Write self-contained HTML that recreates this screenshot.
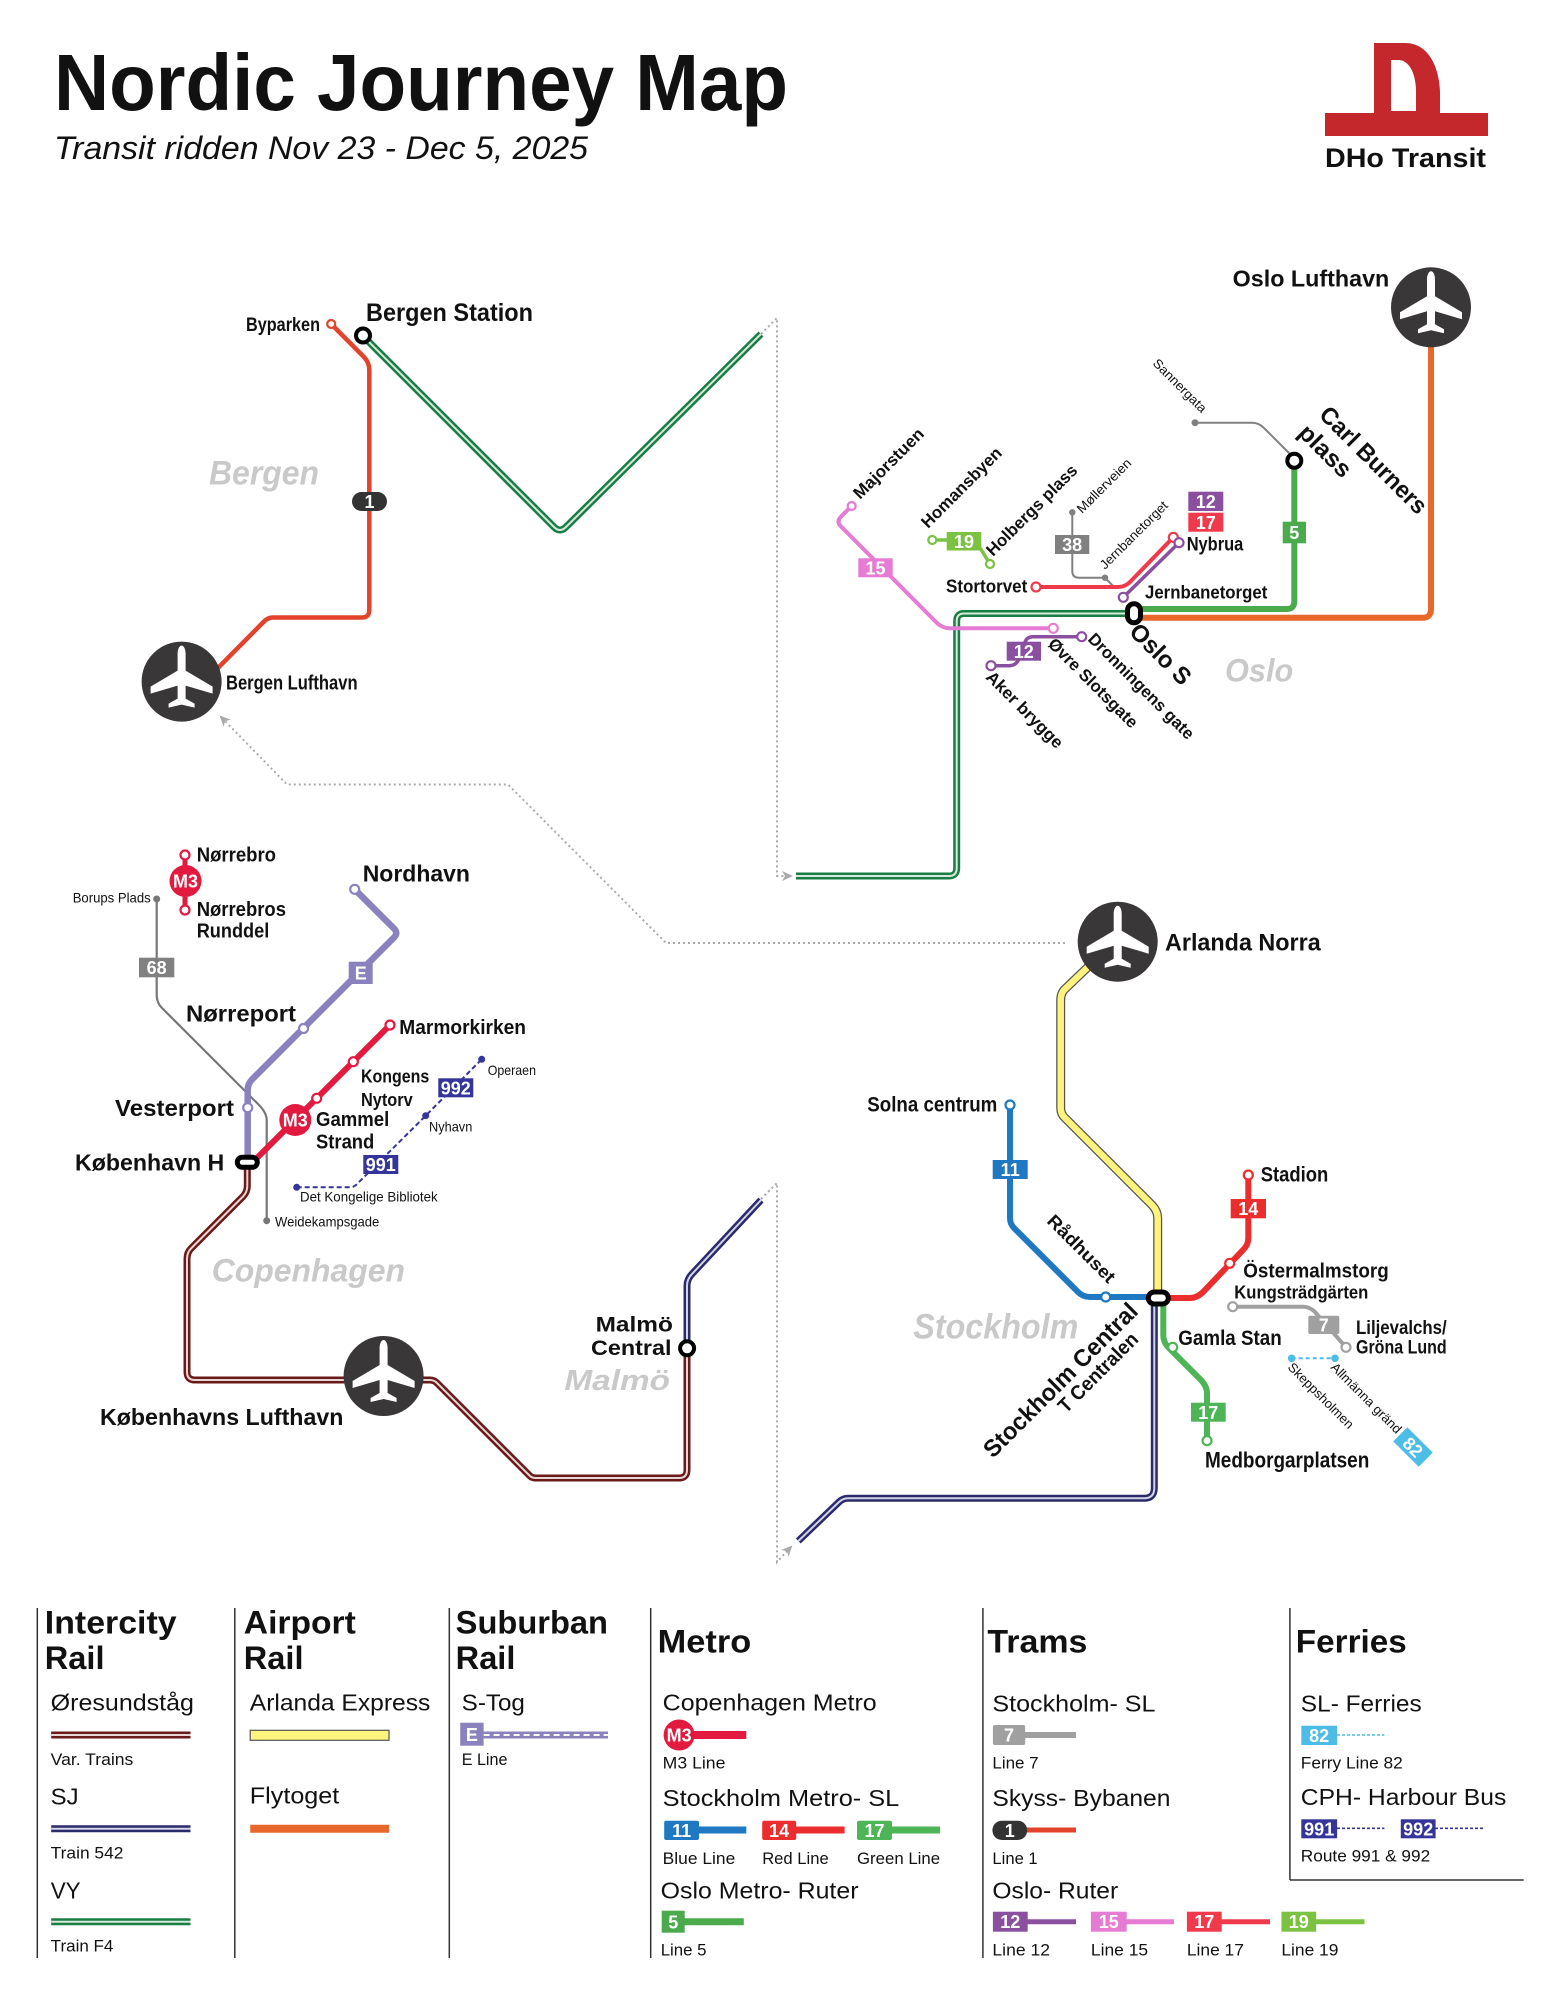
<!DOCTYPE html>
<html><head><meta charset="utf-8">
<style>
html,body{margin:0;padding:0;background:#fff}
svg{display:block}
text{font-family:"Liberation Sans",Arial,sans-serif}
.b{font-weight:700;fill:#111}
.n{font-weight:400;fill:#111}
.g{font-weight:700;font-style:italic;fill:#c9c9c9}
.bt{font-weight:700;fill:#fff;text-anchor:middle;font-size:18px}
.st{fill:#fff;stroke-width:2.2}
</style></head>
<body>
<svg width="1545" height="2000" viewBox="0 0 1545 2000" xmlns="http://www.w3.org/2000/svg">
<defs>
<marker id="arr" markerWidth="12" markerHeight="12" refX="6" refY="6" orient="auto" markerUnits="userSpaceOnUse">
<path d="M0,1 L11,6 L0,11 L3,6 Z" fill="#aaa"/>
</marker>
<g id="ap">
<circle r="40" fill="#3a3738"/>
<path fill="#fff" d="M0,-36 C2.5,-36 4,-32 4,-28 L4,-11 L31,5 L31,12 L4,4 L4,17 L13,22 L13,26 L0,23 L-13,26 L-13,22 L-4,17 L-4,4 L-31,12 L-31,5 L-4,-11 L-4,-28 C-4,-32 -2.5,-36 0,-36 Z"/>
</g>
</defs>

<!-- Title -->
<text x="54" y="110" font-size="80" class="b" textLength="734" lengthAdjust="spacingAndGlyphs">Nordic Journey Map</text>
<text x="54" y="159" font-size="32" font-style="italic" class="n" fill="#222" textLength="534" lengthAdjust="spacingAndGlyphs">Transit ridden Nov 23 - Dec 5, 2025</text>

<!-- Logo -->
<path d="M1374,43 H1405 C1430,43 1440,70 1440,95 V114 H1374 Z" fill="#c4272c"/>
<path d="M1391,60 H1398 C1410,60 1416,75 1416,92 V111 H1391 Z" fill="#fff"/>
<rect x="1325" y="113" width="163" height="23" fill="#c4272c"/>
<text x="1325" y="167" font-size="27" class="b" textLength="161" lengthAdjust="spacingAndGlyphs">DHo Transit</text>

<!-- Dotted connectors -->
<g fill="none" stroke="#aaa" stroke-width="2" stroke-dasharray="2 3">
<path d="M761,334 L777,318 V876 H788" marker-end="url(#arr)"/>
<path d="M1065,943 H666 L508,784.5 H287 L223,719" marker-end="url(#arr)"/>
<path d="M761,1199 L777,1183 V1562 L789,1549" marker-end="url(#arr)"/>
</g>

<!-- ================= BERGEN ================= -->
<path d="M331.2,324 L364,357 Q369.3,362.5 369.3,370 V610 Q369.3,617.5 362,617.5 H273 Q268,617.5 264,621.5 L210,676" fill="none" stroke="#e2432a" stroke-width="4.5"/>
<path d="M363,336 L554,527 Q560,533 566,527 L761,334" fill="none" stroke="#1a7d44" stroke-width="7"/>
<path d="M363,336 L554,527 Q560,533 566,527 L761,334" fill="none" stroke="#d5eadb" stroke-width="2"/>
<circle cx="331.2" cy="324" r="4" class="st" stroke="#e2432a"/>
<circle cx="363" cy="335.5" r="7" fill="#fff" stroke="#000" stroke-width="4"/>
<rect x="352" y="492" width="35" height="19" rx="9.5" fill="#333"/>
<text x="369.5" y="508" class="bt">1</text>
<use href="#ap" x="181.6" y="681.6"/>
<text x="246" y="331" font-size="19" class="b" textLength="74" lengthAdjust="spacingAndGlyphs">Byparken</text>
<text x="366" y="321" font-size="25" class="b" textLength="167" lengthAdjust="spacingAndGlyphs">Bergen Station</text>
<text x="209" y="484.5" font-size="34" class="g" textLength="110" lengthAdjust="spacingAndGlyphs">Bergen</text>
<text x="226" y="689.4" font-size="20" class="b" textLength="131.6" lengthAdjust="spacingAndGlyphs">Bergen Lufthavn</text>

<!-- ================= OSLO ================= -->
<path d="M1128,613.5 H964 Q956.7,613.5 956.7,621 V868 Q956.7,876 949,876 H796" fill="none" stroke="#1a7d44" stroke-width="7"/>
<path d="M1128,613.5 H964 Q956.7,613.5 956.7,621 V868 Q956.7,876 949,876 H796" fill="none" stroke="#d5eadb" stroke-width="2"/>
<path d="M851.7,506 L841,516.5 Q836,521.5 841,526.5 L936,622 Q942,628.3 950,628.3 H1053.3" fill="none" stroke="#e67bd4" stroke-width="4"/>
<path d="M932.3,540 H972 Q975,540 977,543 L990,564" fill="none" stroke="#7cc242" stroke-width="3.5"/>
<path d="M1072.3,512.3 V571 Q1072.3,577.7 1079,577.7 H1105 L1114,587" fill="none" stroke="#808080" stroke-width="2"/>
<path d="M1036,587 H1118 Q1125,587 1130,582 L1173.3,537.3" fill="none" stroke="#f0394a" stroke-width="4"/>
<path d="M1123.3,597.3 L1179,542.7" fill="none" stroke="#8b4f9f" stroke-width="3.5"/>
<path d="M1081.7,636.7 H1033 Q1027,636.7 1025,642 L1019,659 Q1016,665.7 1009,665.7 H991" fill="none" stroke="#8b4f9f" stroke-width="3.5"/>
<path d="M1195,422.7 H1252 Q1259,422.7 1264,428 L1290,454" fill="none" stroke="#808080" stroke-width="2"/>
<path d="M1139,609 H1287 Q1294.3,609 1294.3,601 V461" fill="none" stroke="#4baa4b" stroke-width="6"/>
<path d="M1139,617.7 H1423 Q1431,617.7 1431,609 V320" fill="none" stroke="#e8672a" stroke-width="6"/>
<circle cx="851.7" cy="506" r="4" class="st" stroke="#e67bd4"/>
<circle cx="1053.3" cy="628.3" r="4.5" class="st" stroke="#e67bd4"/>
<circle cx="932.3" cy="540" r="4" class="st" stroke="#7cc242"/>
<circle cx="990" cy="564" r="4" class="st" stroke="#7cc242"/>
<circle cx="1072.3" cy="512.3" r="3.2" fill="#808080"/>
<circle cx="1105" cy="577.7" r="3.2" fill="#808080"/>
<circle cx="1195" cy="422.7" r="3.5" fill="#808080"/>
<circle cx="1036" cy="587" r="4.5" class="st" stroke="#f0394a"/>
<circle cx="1173.3" cy="537.3" r="4.5" class="st" stroke="#f0394a"/>
<circle cx="1179" cy="542.7" r="4.5" class="st" stroke="#8b4f9f"/>
<circle cx="1123.3" cy="597.3" r="4.5" class="st" stroke="#8b4f9f"/>
<circle cx="1081.7" cy="636.7" r="4.5" class="st" stroke="#8b4f9f"/>
<circle cx="991" cy="665.7" r="4.5" class="st" stroke="#8b4f9f"/>
<circle cx="1294.3" cy="460.7" r="7" fill="#fff" stroke="#000" stroke-width="4"/>
<rect x="1127.5" y="603.8" width="13" height="19" rx="6.5" fill="#fff" stroke="#000" stroke-width="5"/>
<use href="#ap" x="1431" y="307.3"/>
<rect x="858.3" y="558.3" width="34.4" height="19" fill="#e67bd4"/><text x="875.5" y="574.5" class="bt">15</text>
<rect x="946.7" y="532" width="34.6" height="18.5" fill="#7cc242"/><text x="964" y="548" class="bt">19</text>
<rect x="1055" y="535" width="34.3" height="19" fill="#808080"/><text x="1072.2" y="551" class="bt">38</text>
<rect x="1188.3" y="491.7" width="35" height="19.3" fill="#8b4f9f"/><text x="1205.8" y="508" class="bt">12</text>
<rect x="1188.3" y="512.7" width="35" height="19" fill="#f0394a"/><text x="1205.8" y="528.8" class="bt">17</text>
<rect x="1282.7" y="521.7" width="23.3" height="21.6" fill="#4baa4b"/><text x="1294.3" y="539" class="bt">5</text>
<rect x="1006.7" y="641.7" width="34.3" height="19" fill="#8b4f9f"/><text x="1023.8" y="657.8" class="bt">12</text>
<text x="1232.7" y="286.7" font-size="23" class="b" textLength="156.6" lengthAdjust="spacingAndGlyphs">Oslo Lufthavn</text>
<text x="946" y="592.7" font-size="18.5" class="b" textLength="81.3" lengthAdjust="spacingAndGlyphs">Stortorvet</text>
<text x="1186.7" y="550.7" font-size="19" class="b" textLength="56.6" lengthAdjust="spacingAndGlyphs">Nybrua</text>
<text x="1145" y="598.3" font-size="18.5" class="b" textLength="122.3" lengthAdjust="spacingAndGlyphs">Jernbanetorget</text>
<text x="1225" y="681.7" font-size="32" class="g" textLength="68.3" lengthAdjust="spacingAndGlyphs">Oslo</text>
<text transform="translate(860,500) rotate(-45)" font-size="17" class="b" textLength="92" lengthAdjust="spacingAndGlyphs">Majorstuen</text>
<text transform="translate(928,529) rotate(-45)" font-size="17" class="b" textLength="106" lengthAdjust="spacingAndGlyphs">Homansbyen</text>
<text transform="translate(993,557) rotate(-45)" font-size="17" class="b" textLength="121" lengthAdjust="spacingAndGlyphs">Holbergs plass</text>
<text transform="translate(1082,514) rotate(-45)" font-size="13" class="n" textLength="71" lengthAdjust="spacingAndGlyphs">Møllerveien</text>
<text transform="translate(1105,570) rotate(-45)" font-size="13" class="n" textLength="90" lengthAdjust="spacingAndGlyphs">Jernbanetorget</text>
<text transform="translate(1152,364) rotate(45)" font-size="13" class="n" textLength="70" lengthAdjust="spacingAndGlyphs">Sannergata</text>
<text transform="translate(1318,416) rotate(45)" font-size="24" class="b" textLength="141" lengthAdjust="spacingAndGlyphs">Carl Burners</text>
<text transform="translate(1297,434) rotate(45)" font-size="24" class="b" textLength="64" lengthAdjust="spacingAndGlyphs">plass</text>
<text transform="translate(1128,633) rotate(45)" font-size="24" class="b" textLength="76" lengthAdjust="spacingAndGlyphs">Oslo S</text>
<text transform="translate(1087,640) rotate(45)" font-size="17" class="b" textLength="142" lengthAdjust="spacingAndGlyphs">Dronningens gate</text>
<text transform="translate(1047,645) rotate(45)" font-size="17" class="b" textLength="119" lengthAdjust="spacingAndGlyphs">Øvre Slotsgate</text>
<text transform="translate(985,678) rotate(45)" font-size="17" class="b" textLength="101" lengthAdjust="spacingAndGlyphs">Aker brygge</text>

<!-- ================= COPENHAGEN ================= -->
<path d="M247.3,1166 V1186 Q247.3,1192 243,1196.5 L191,1248.5 Q187,1252.5 187,1259 V1372 Q187,1380 195,1380 H430 Q434,1380 437,1383 L530,1476 Q532,1478 536,1478 H679 Q687,1478 687,1470 V1352" fill="none" stroke="#6b1a1a" stroke-width="7"/>
<path d="M247.3,1166 V1186 Q247.3,1192 243,1196.5 L191,1248.5 Q187,1252.5 187,1259 V1372 Q187,1380 195,1380 H430 Q434,1380 437,1383 L530,1476 Q532,1478 536,1478 H679 Q687,1478 687,1470 V1352" fill="none" stroke="#e6d6d6" stroke-width="2"/>
<path d="M687,1345 V1286 Q687,1279 692,1274 L761,1200" fill="none" stroke="#2b2a6b" stroke-width="7"/>
<path d="M687,1345 V1286 Q687,1279 692,1274 L761,1200" fill="none" stroke="#d4d4e8" stroke-width="2"/>
<path d="M156.7,899 V995 Q156.7,1003 162,1008 L259,1105 Q266.7,1113 266.7,1120 V1220.7" fill="none" stroke="#777" stroke-width="2.2"/>
<circle cx="156.7" cy="899" r="3.5" fill="#777"/>
<circle cx="266.7" cy="1220.7" r="3.5" fill="#777"/>
<rect x="139" y="957.7" width="35.3" height="19.6" fill="#808080"/><text x="156.7" y="974" class="bt">68</text>
<path d="M354.7,889.3 L394,928.5 Q398.5,933 394,937.5 L252,1079.5 Q247.7,1084 247.7,1090 V1160" fill="none" stroke="#8a82be" stroke-width="6.5"/>
<circle cx="354.7" cy="889.3" r="4.5" class="st" stroke="#8a82be"/>
<circle cx="303.5" cy="1028.5" r="4.5" class="st" stroke="#8a82be"/>
<circle cx="247.7" cy="1107.7" r="4.5" class="st" stroke="#8a82be"/>
<rect x="348.7" y="961.7" width="24" height="22.3" fill="#8a82be"/><text x="360.7" y="979.5" class="bt">E</text>
<path d="M256.7,1158.3 L390,1025" fill="none" stroke="#e31a3f" stroke-width="6"/>
<circle cx="390" cy="1025" r="4.5" class="st" stroke="#e31a3f"/>
<circle cx="353.3" cy="1061.7" r="4.5" class="st" stroke="#e31a3f"/>
<circle cx="316.7" cy="1098.3" r="4.5" class="st" stroke="#e31a3f"/>
<circle cx="295.3" cy="1120" r="16" fill="#e31a3f"/><text x="295.3" y="1126.5" class="bt">M3</text>
<path d="M185,855 V910" stroke="#e31a3f" stroke-width="5"/>
<circle cx="185" cy="855" r="4.5" class="st" stroke="#e31a3f"/>
<circle cx="185" cy="910" r="4.5" class="st" stroke="#e31a3f"/>
<circle cx="185.5" cy="881" r="16" fill="#e31a3f"/><text x="185.5" y="887.5" class="bt">M3</text>
<path d="M296.7,1187.3 H350 Q354,1187.3 357,1184 L425.7,1115.7 L481.7,1059.3" fill="none" stroke="#34349a" stroke-width="2" stroke-dasharray="5 3"/>
<circle cx="296.7" cy="1187.3" r="3.5" fill="#34349a"/>
<circle cx="425.7" cy="1115.7" r="3.5" fill="#34349a"/>
<circle cx="481.7" cy="1059.3" r="3.5" fill="#34349a"/>
<rect x="363.3" y="1155" width="35" height="19" fill="#34349a"/><text x="380.8" y="1171" class="bt">991</text>
<rect x="438.3" y="1078.3" width="35" height="19" fill="#34349a"/><text x="455.8" y="1094.5" class="bt">992</text>
<rect x="237.3" y="1157.3" width="20" height="10" rx="5" fill="#fff" stroke="#000" stroke-width="5"/>
<circle cx="687.1" cy="1348.3" r="7" fill="#fff" stroke="#000" stroke-width="4"/>
<use href="#ap" x="383.6" y="1376"/>
<text x="196.7" y="861.7" font-size="20.5" class="b" textLength="79.3" lengthAdjust="spacingAndGlyphs">Nørrebro</text>
<text x="196.7" y="916" font-size="20.5" class="b" textLength="89.3" lengthAdjust="spacingAndGlyphs">Nørrebros</text>
<text x="196.7" y="937.7" font-size="20.5" class="b" textLength="72.6" lengthAdjust="spacingAndGlyphs">Runddel</text>
<text x="72.7" y="902.7" font-size="14" class="n" textLength="78" lengthAdjust="spacingAndGlyphs">Borups Plads</text>
<text x="362.7" y="881.7" font-size="23.5" class="b" textLength="107.3" lengthAdjust="spacingAndGlyphs">Nordhavn</text>
<text x="186" y="1021.7" font-size="23.5" class="b" textLength="110" lengthAdjust="spacingAndGlyphs">Nørreport</text>
<text x="115" y="1116" font-size="23.5" class="b" textLength="119" lengthAdjust="spacingAndGlyphs">Vesterport</text>
<text x="75" y="1170.7" font-size="23.5" class="b" textLength="149.3" lengthAdjust="spacingAndGlyphs">København H</text>
<text x="399.3" y="1034" font-size="20.5" class="b" textLength="126.7" lengthAdjust="spacingAndGlyphs">Marmorkirken</text>
<text x="361" y="1082.3" font-size="18" class="b" textLength="68.3" lengthAdjust="spacingAndGlyphs">Kongens</text>
<text x="361" y="1106" font-size="18" class="b" textLength="51.7" lengthAdjust="spacingAndGlyphs">Nytorv</text>
<text x="316" y="1126" font-size="20.5" class="b" textLength="73.3" lengthAdjust="spacingAndGlyphs">Gammel</text>
<text x="316" y="1148.3" font-size="20.5" class="b" textLength="58.3" lengthAdjust="spacingAndGlyphs">Strand</text>
<text x="487.7" y="1075" font-size="14" class="n" textLength="48.3" lengthAdjust="spacingAndGlyphs">Operaen</text>
<text x="429" y="1131.7" font-size="14" class="n" textLength="43.3" lengthAdjust="spacingAndGlyphs">Nyhavn</text>
<text x="300" y="1201.7" font-size="14" class="n" textLength="137.7" lengthAdjust="spacingAndGlyphs">Det Kongelige Bibliotek</text>
<text x="275" y="1226.7" font-size="14" class="n" textLength="104.3" lengthAdjust="spacingAndGlyphs">Weidekampsgade</text>
<text x="100" y="1425" font-size="23" class="b" textLength="243.4" lengthAdjust="spacingAndGlyphs">Københavns Lufthavn</text>
<text x="211.7" y="1281.7" font-size="32" class="g" textLength="193.3" lengthAdjust="spacingAndGlyphs">Copenhagen</text>
<text x="595.6" y="1331.7" font-size="21" class="b" textLength="77.3" lengthAdjust="spacingAndGlyphs">Malmö</text>
<text x="591" y="1355" font-size="21" class="b" textLength="80.5" lengthAdjust="spacingAndGlyphs">Central</text>
<text x="564.4" y="1390" font-size="29" class="g" textLength="105.6" lengthAdjust="spacingAndGlyphs">Malmö</text>

<!-- ================= STOCKHOLM ================= -->
<path d="M1154.3,1306 V1488 Q1154.3,1498.3 1144,1498.3 H848 Q843,1498.3 839,1502 L798.3,1541" fill="none" stroke="#2b2a6b" stroke-width="7"/>
<path d="M1154.3,1306 V1488 Q1154.3,1498.3 1144,1498.3 H848 Q843,1498.3 839,1502 L798.3,1541" fill="none" stroke="#d4d4e8" stroke-width="2"/>
<path d="M1088,967 L1064,990 Q1060.7,994 1060.7,1000 V1108 Q1060.7,1114 1065,1118 L1152,1205 Q1157.7,1211 1157.7,1218 V1292" fill="none" stroke="#555" stroke-width="9"/>
<path d="M1088,967 L1064,990 Q1060.7,994 1060.7,1000 V1108 Q1060.7,1114 1065,1118 L1152,1205 Q1157.7,1211 1157.7,1218 V1292" fill="none" stroke="#fff27d" stroke-width="6.5"/>
<path d="M1010,1105 V1218 Q1010,1224 1014,1228 L1078,1292 Q1083,1297 1090,1297 H1150" fill="none" stroke="#1e78c2" stroke-width="6"/>
<path d="M1248.3,1175 V1238 Q1248.3,1245 1243,1250 L1205,1290 Q1198,1298 1190,1298 H1160" fill="none" stroke="#ec2d2d" stroke-width="6"/>
<path d="M1163.3,1305 V1335 Q1163.3,1342 1168,1347 L1200,1379 Q1207,1386 1207,1393 V1440.7" fill="none" stroke="#4db556" stroke-width="6"/>
<path d="M1232.7,1306.7 H1303 Q1310,1306.7 1315,1312 L1346,1347.3" fill="none" stroke="#a0a0a0" stroke-width="4"/>
<path d="M1291.7,1358.3 H1335" fill="none" stroke="#4dbce6" stroke-width="2" stroke-dasharray="4 3"/>
<circle cx="1291.7" cy="1358.3" r="3.8" fill="#4dbce6"/>
<circle cx="1335" cy="1358.3" r="3.8" fill="#4dbce6"/>
<circle cx="1010" cy="1105" r="4.5" class="st" stroke="#1e78c2"/>
<circle cx="1105.7" cy="1297" r="4.5" class="st" stroke="#1e78c2"/>
<circle cx="1248.3" cy="1175" r="4.5" class="st" stroke="#ec2d2d"/>
<circle cx="1229.7" cy="1263.3" r="4.5" class="st" stroke="#ec2d2d"/>
<circle cx="1172.7" cy="1347.3" r="4.5" class="st" stroke="#4db556"/>
<circle cx="1207" cy="1440.7" r="4.5" class="st" stroke="#4db556"/>
<circle cx="1232.7" cy="1306.7" r="4.5" class="st" stroke="#a0a0a0"/>
<circle cx="1346" cy="1347.3" r="4.5" class="st" stroke="#a0a0a0"/>
<rect x="1148.3" y="1292" width="20" height="12" rx="6" fill="#fff" stroke="#000" stroke-width="5"/>
<use href="#ap" x="1117.7" y="941.7"/>
<rect x="992.7" y="1160" width="35" height="19" fill="#1e78c2"/><text x="1010.2" y="1176" class="bt">11</text>
<rect x="1230.7" y="1199" width="35.3" height="19.3" fill="#ec2d2d"/><text x="1248.3" y="1215.2" class="bt">14</text>
<rect x="1308.3" y="1315.7" width="31" height="18.3" rx="2" fill="#a0a0a0"/><text x="1323.8" y="1331.4" class="bt">7</text>
<rect x="1191" y="1402.7" width="34.7" height="19" fill="#4db556"/><text x="1208.3" y="1418.8" class="bt">17</text>
<g transform="translate(1413,1447) rotate(45)"><rect x="-18" y="-10" width="36" height="20" fill="#4dbce6"/><text x="0" y="6.5" class="bt">82</text></g>
<text x="1165" y="950.7" font-size="24" class="b" textLength="155.7" lengthAdjust="spacingAndGlyphs">Arlanda Norra</text>
<text x="867.3" y="1111.7" font-size="21" class="b" textLength="130" lengthAdjust="spacingAndGlyphs">Solna centrum</text>
<text x="1260.7" y="1181.7" font-size="21" class="b" textLength="67.6" lengthAdjust="spacingAndGlyphs">Stadion</text>
<text x="1243.3" y="1277.3" font-size="20" class="b" textLength="145.4" lengthAdjust="spacingAndGlyphs">Östermalmstorg</text>
<text x="1234.3" y="1298.3" font-size="18.5" class="b" textLength="134" lengthAdjust="spacingAndGlyphs">Kungsträdgärten</text>
<text x="1356" y="1334" font-size="19" class="b" textLength="90.7" lengthAdjust="spacingAndGlyphs">Liljevalchs/</text>
<text x="1356" y="1353.3" font-size="19" class="b" textLength="90.7" lengthAdjust="spacingAndGlyphs">Gröna Lund</text>
<text x="1178.3" y="1345" font-size="21" class="b" textLength="103.4" lengthAdjust="spacingAndGlyphs">Gamla Stan</text>
<text x="1205" y="1467.3" font-size="22" class="b" textLength="164.3" lengthAdjust="spacingAndGlyphs">Medborgarplatsen</text>
<text x="913.3" y="1338.3" font-size="35" class="g" textLength="165" lengthAdjust="spacingAndGlyphs">Stockholm</text>
<text transform="translate(1046,1222) rotate(45)" font-size="18" class="b" textLength="88" lengthAdjust="spacingAndGlyphs">Rådhuset</text>
<text transform="translate(1287,1368) rotate(45)" font-size="13" class="n" textLength="87" lengthAdjust="spacingAndGlyphs">Skeppsholmen</text>
<text transform="translate(1330,1368) rotate(45)" font-size="13" class="n" textLength="94" lengthAdjust="spacingAndGlyphs">Allmänna gränd</text>
<text transform="translate(993,1459) rotate(-45)" font-size="24" class="b" textLength="207" lengthAdjust="spacingAndGlyphs">Stockholm Central</text>
<text transform="translate(1066,1414) rotate(-45)" font-size="20" class="b" textLength="104" lengthAdjust="spacingAndGlyphs">T Centralen</text>

<!-- ================= LEGEND ================= -->
<g stroke="#333" stroke-width="1.5">
<line x1="37.3" y1="1608" x2="37.3" y2="1958"/>
<line x1="234.8" y1="1608" x2="234.8" y2="1958"/>
<line x1="449.3" y1="1608" x2="449.3" y2="1958"/>
<line x1="650.7" y1="1608" x2="650.7" y2="1958"/>
<line x1="982.9" y1="1608" x2="982.9" y2="1958"/>
<line x1="1289.9" y1="1608" x2="1289.9" y2="1880"/>
<line x1="1289.9" y1="1880" x2="1523.7" y2="1880"/>
</g>
<g font-size="32" class="b">
<text x="44.8" y="1633.3" class="b" textLength="131.8" lengthAdjust="spacingAndGlyphs">Intercity</text>
<text x="44.8" y="1669" class="b" textLength="59.7" lengthAdjust="spacingAndGlyphs">Rail</text>
<text x="243.8" y="1633.3" class="b" textLength="112" lengthAdjust="spacingAndGlyphs">Airport</text>
<text x="243.8" y="1669" class="b" textLength="59.7" lengthAdjust="spacingAndGlyphs">Rail</text>
<text x="455.7" y="1633.3" class="b" textLength="152.3" lengthAdjust="spacingAndGlyphs">Suburban</text>
<text x="455.7" y="1669" class="b" textLength="59.7" lengthAdjust="spacingAndGlyphs">Rail</text>
<text x="657.7" y="1652.7" class="b" textLength="93.5" lengthAdjust="spacingAndGlyphs">Metro</text>
<text x="987.4" y="1652.7" class="b" textLength="100" lengthAdjust="spacingAndGlyphs">Trams</text>
<text x="1295.8" y="1652.7" class="b" textLength="111" lengthAdjust="spacingAndGlyphs">Ferries</text>
</g>
<g font-size="23">
<text x="50.7" y="1710.7" class="n" textLength="143.3" lengthAdjust="spacingAndGlyphs">Øresundståg</text>
<text x="50.7" y="1804.3" class="n" textLength="27.9" lengthAdjust="spacingAndGlyphs">SJ</text>
<text x="50.7" y="1898.3" class="n" textLength="29.9" lengthAdjust="spacingAndGlyphs">VY</text>
<text x="249.8" y="1710.7" class="n" textLength="180.5" lengthAdjust="spacingAndGlyphs">Arlanda Express</text>
<text x="249.8" y="1803.3" class="n" textLength="89.5" lengthAdjust="spacingAndGlyphs">Flytoget</text>
<text x="461.7" y="1710.7" class="n" textLength="63.2" lengthAdjust="spacingAndGlyphs">S-Tog</text>
<text x="662.7" y="1710.7" class="n" textLength="214" lengthAdjust="spacingAndGlyphs">Copenhagen Metro</text>
<text x="662.7" y="1806" class="n" textLength="236.6" lengthAdjust="spacingAndGlyphs">Stockholm Metro- SL</text>
<text x="660.7" y="1898.3" class="n" textLength="197.8" lengthAdjust="spacingAndGlyphs">Oslo Metro- Ruter</text>
<text x="992.4" y="1711.7" class="n" textLength="163.1" lengthAdjust="spacingAndGlyphs">Stockholm- SL</text>
<text x="992.4" y="1806" class="n" textLength="178.1" lengthAdjust="spacingAndGlyphs">Skyss- Bybanen</text>
<text x="992.4" y="1898.3" class="n" textLength="125.8" lengthAdjust="spacingAndGlyphs">Oslo- Ruter</text>
<text x="1300.8" y="1711.7" class="n" textLength="120.9" lengthAdjust="spacingAndGlyphs">SL- Ferries</text>
<text x="1300.8" y="1805" class="n" textLength="205.5" lengthAdjust="spacingAndGlyphs">CPH- Harbour Bus</text>
</g>
<g font-size="17">
<text x="50.7" y="1765" class="n" textLength="82.6" lengthAdjust="spacingAndGlyphs">Var. Trains</text>
<text x="50.7" y="1858.3" class="n" textLength="72.7" lengthAdjust="spacingAndGlyphs">Train 542</text>
<text x="50.7" y="1951.7" class="n" textLength="62.7" lengthAdjust="spacingAndGlyphs">Train F4</text>
<text x="461.7" y="1765" class="n" textLength="45.8" lengthAdjust="spacingAndGlyphs">E Line</text>
<text x="662.7" y="1768.3" class="n" textLength="62.7" lengthAdjust="spacingAndGlyphs">M3 Line</text>
<text x="662.7" y="1864" class="n" textLength="72.6" lengthAdjust="spacingAndGlyphs">Blue Line</text>
<text x="762.2" y="1864" class="n" textLength="66.5" lengthAdjust="spacingAndGlyphs">Red Line</text>
<text x="857" y="1864" class="n" textLength="83.1" lengthAdjust="spacingAndGlyphs">Green Line</text>
<text x="660.7" y="1955.7" class="n" textLength="45.8" lengthAdjust="spacingAndGlyphs">Line 5</text>
<text x="992.4" y="1768.3" class="n" textLength="46.2" lengthAdjust="spacingAndGlyphs">Line 7</text>
<text x="992.4" y="1864" class="n" textLength="45.3" lengthAdjust="spacingAndGlyphs">Line 1</text>
<text x="992.4" y="1955.7" class="n" textLength="57.7" lengthAdjust="spacingAndGlyphs">Line 12</text>
<text x="1090.9" y="1955.7" class="n" textLength="57.2" lengthAdjust="spacingAndGlyphs">Line 15</text>
<text x="1186.9" y="1955.7" class="n" textLength="57" lengthAdjust="spacingAndGlyphs">Line 17</text>
<text x="1281.4" y="1955.7" class="n" textLength="57" lengthAdjust="spacingAndGlyphs">Line 19</text>
<text x="1300.8" y="1768.3" class="n" textLength="102" lengthAdjust="spacingAndGlyphs">Ferry Line 82</text>
<text x="1300.8" y="1861.7" class="n" textLength="129.4" lengthAdjust="spacingAndGlyphs">Route 991 &amp; 992</text>
</g>
<line x1="51.2" y1="1735" x2="190.5" y2="1735" stroke="#6b1a1a" stroke-width="7"/>
<line x1="51.2" y1="1735" x2="190.5" y2="1735" stroke="#e6d6d6" stroke-width="2"/>
<line x1="51.2" y1="1828.7" x2="190.5" y2="1828.7" stroke="#2b2a6b" stroke-width="7"/>
<line x1="51.2" y1="1828.7" x2="190.5" y2="1828.7" stroke="#d4d4e8" stroke-width="2"/>
<line x1="51.2" y1="1921.7" x2="190.5" y2="1921.7" stroke="#1a7d44" stroke-width="7"/>
<line x1="51.2" y1="1921.7" x2="190.5" y2="1921.7" stroke="#d5eadb" stroke-width="2"/>
<rect x="250.2" y="1730.3" width="138.8" height="10" fill="#fff27d" stroke="#555" stroke-width="1.2"/>
<line x1="250.2" y1="1828.7" x2="389" y2="1828.7" stroke="#e8672a" stroke-width="8"/>
<line x1="483.6" y1="1735" x2="608" y2="1735" stroke="#8a82be" stroke-width="7"/>
<line x1="483.6" y1="1735" x2="608" y2="1735" stroke="#fff" stroke-width="2" stroke-dasharray="6 4"/>
<rect x="460.2" y="1722.7" width="23.4" height="23" fill="#8a82be"/><text x="471.9" y="1741" class="bt">E</text>
<line x1="679" y1="1735" x2="746.3" y2="1735" stroke="#e31a3f" stroke-width="8"/>
<circle cx="679.1" cy="1735" r="15.5" fill="#e31a3f"/><text x="679.1" y="1741.5" class="bt">M3</text>
<line x1="690" y1="1830" x2="746.3" y2="1830" stroke="#1e78c2" stroke-width="7"/>
<rect x="664.2" y="1820.7" width="34.8" height="19.3" rx="2" fill="#1e78c2"/><text x="681.6" y="1837" class="bt">11</text>
<line x1="790" y1="1830" x2="844.6" y2="1830" stroke="#ec2d2d" stroke-width="7"/>
<rect x="762.2" y="1820.7" width="34" height="19.3" rx="2" fill="#ec2d2d"/><text x="779.2" y="1837" class="bt">14</text>
<line x1="885" y1="1830" x2="940.1" y2="1830" stroke="#4db556" stroke-width="7"/>
<rect x="857" y="1820.7" width="35" height="19.3" rx="2" fill="#4db556"/><text x="874.5" y="1837" class="bt">17</text>
<line x1="680" y1="1921.7" x2="743.8" y2="1921.7" stroke="#4baa4b" stroke-width="7"/>
<rect x="661.7" y="1910.7" width="23" height="22" fill="#4baa4b"/><text x="673.2" y="1928.3" class="bt">5</text>
<line x1="1020" y1="1735" x2="1076" y2="1735" stroke="#a0a0a0" stroke-width="6"/>
<rect x="992.9" y="1725" width="32.3" height="20" rx="2" fill="#a0a0a0"/><text x="1009" y="1741.5" class="bt">7</text>
<line x1="1020" y1="1830" x2="1076" y2="1830" stroke="#e2432a" stroke-width="5"/>
<rect x="992.4" y="1820.7" width="34.8" height="19.3" rx="9.6" fill="#333"/><text x="1009.8" y="1837" class="bt">1</text>
<line x1="1020" y1="1921.7" x2="1076" y2="1921.7" stroke="#8b4f9f" stroke-width="5"/>
<rect x="992.9" y="1911.7" width="34.8" height="20" fill="#8b4f9f"/><text x="1010.3" y="1928" class="bt">12</text>
<line x1="1120" y1="1921.7" x2="1174" y2="1921.7" stroke="#e67bd4" stroke-width="5"/>
<rect x="1090.9" y="1911.7" width="35.8" height="20" fill="#e67bd4"/><text x="1108.8" y="1928" class="bt">15</text>
<line x1="1215" y1="1921.7" x2="1270" y2="1921.7" stroke="#f0394a" stroke-width="5"/>
<rect x="1186.9" y="1911.7" width="34.8" height="20" fill="#f0394a"/><text x="1204.3" y="1928" class="bt">17</text>
<line x1="1310" y1="1921.7" x2="1364.5" y2="1921.7" stroke="#7cc242" stroke-width="5"/>
<rect x="1281.4" y="1911.7" width="34.8" height="20" fill="#7cc242"/><text x="1298.8" y="1928" class="bt">19</text>
<line x1="1337" y1="1735" x2="1384.4" y2="1735" stroke="#4dbce6" stroke-width="1.6" stroke-dasharray="3 2"/>
<rect x="1301.3" y="1725.7" width="35.8" height="19.3" fill="#4dbce6"/><text x="1319.2" y="1742" class="bt">82</text>
<line x1="1337" y1="1828.3" x2="1384.4" y2="1828.3" stroke="#34349a" stroke-width="1.6" stroke-dasharray="3 2"/>
<rect x="1301.3" y="1819.3" width="35.8" height="19" fill="#34349a"/><text x="1319.2" y="1835.5" class="bt">991</text>
<line x1="1435" y1="1828.3" x2="1483.9" y2="1828.3" stroke="#34349a" stroke-width="1.6" stroke-dasharray="3 2"/>
<rect x="1400.8" y="1819.3" width="34.8" height="19" fill="#34349a"/><text x="1418.2" y="1835.5" class="bt">992</text>
</svg>
</body></html>
